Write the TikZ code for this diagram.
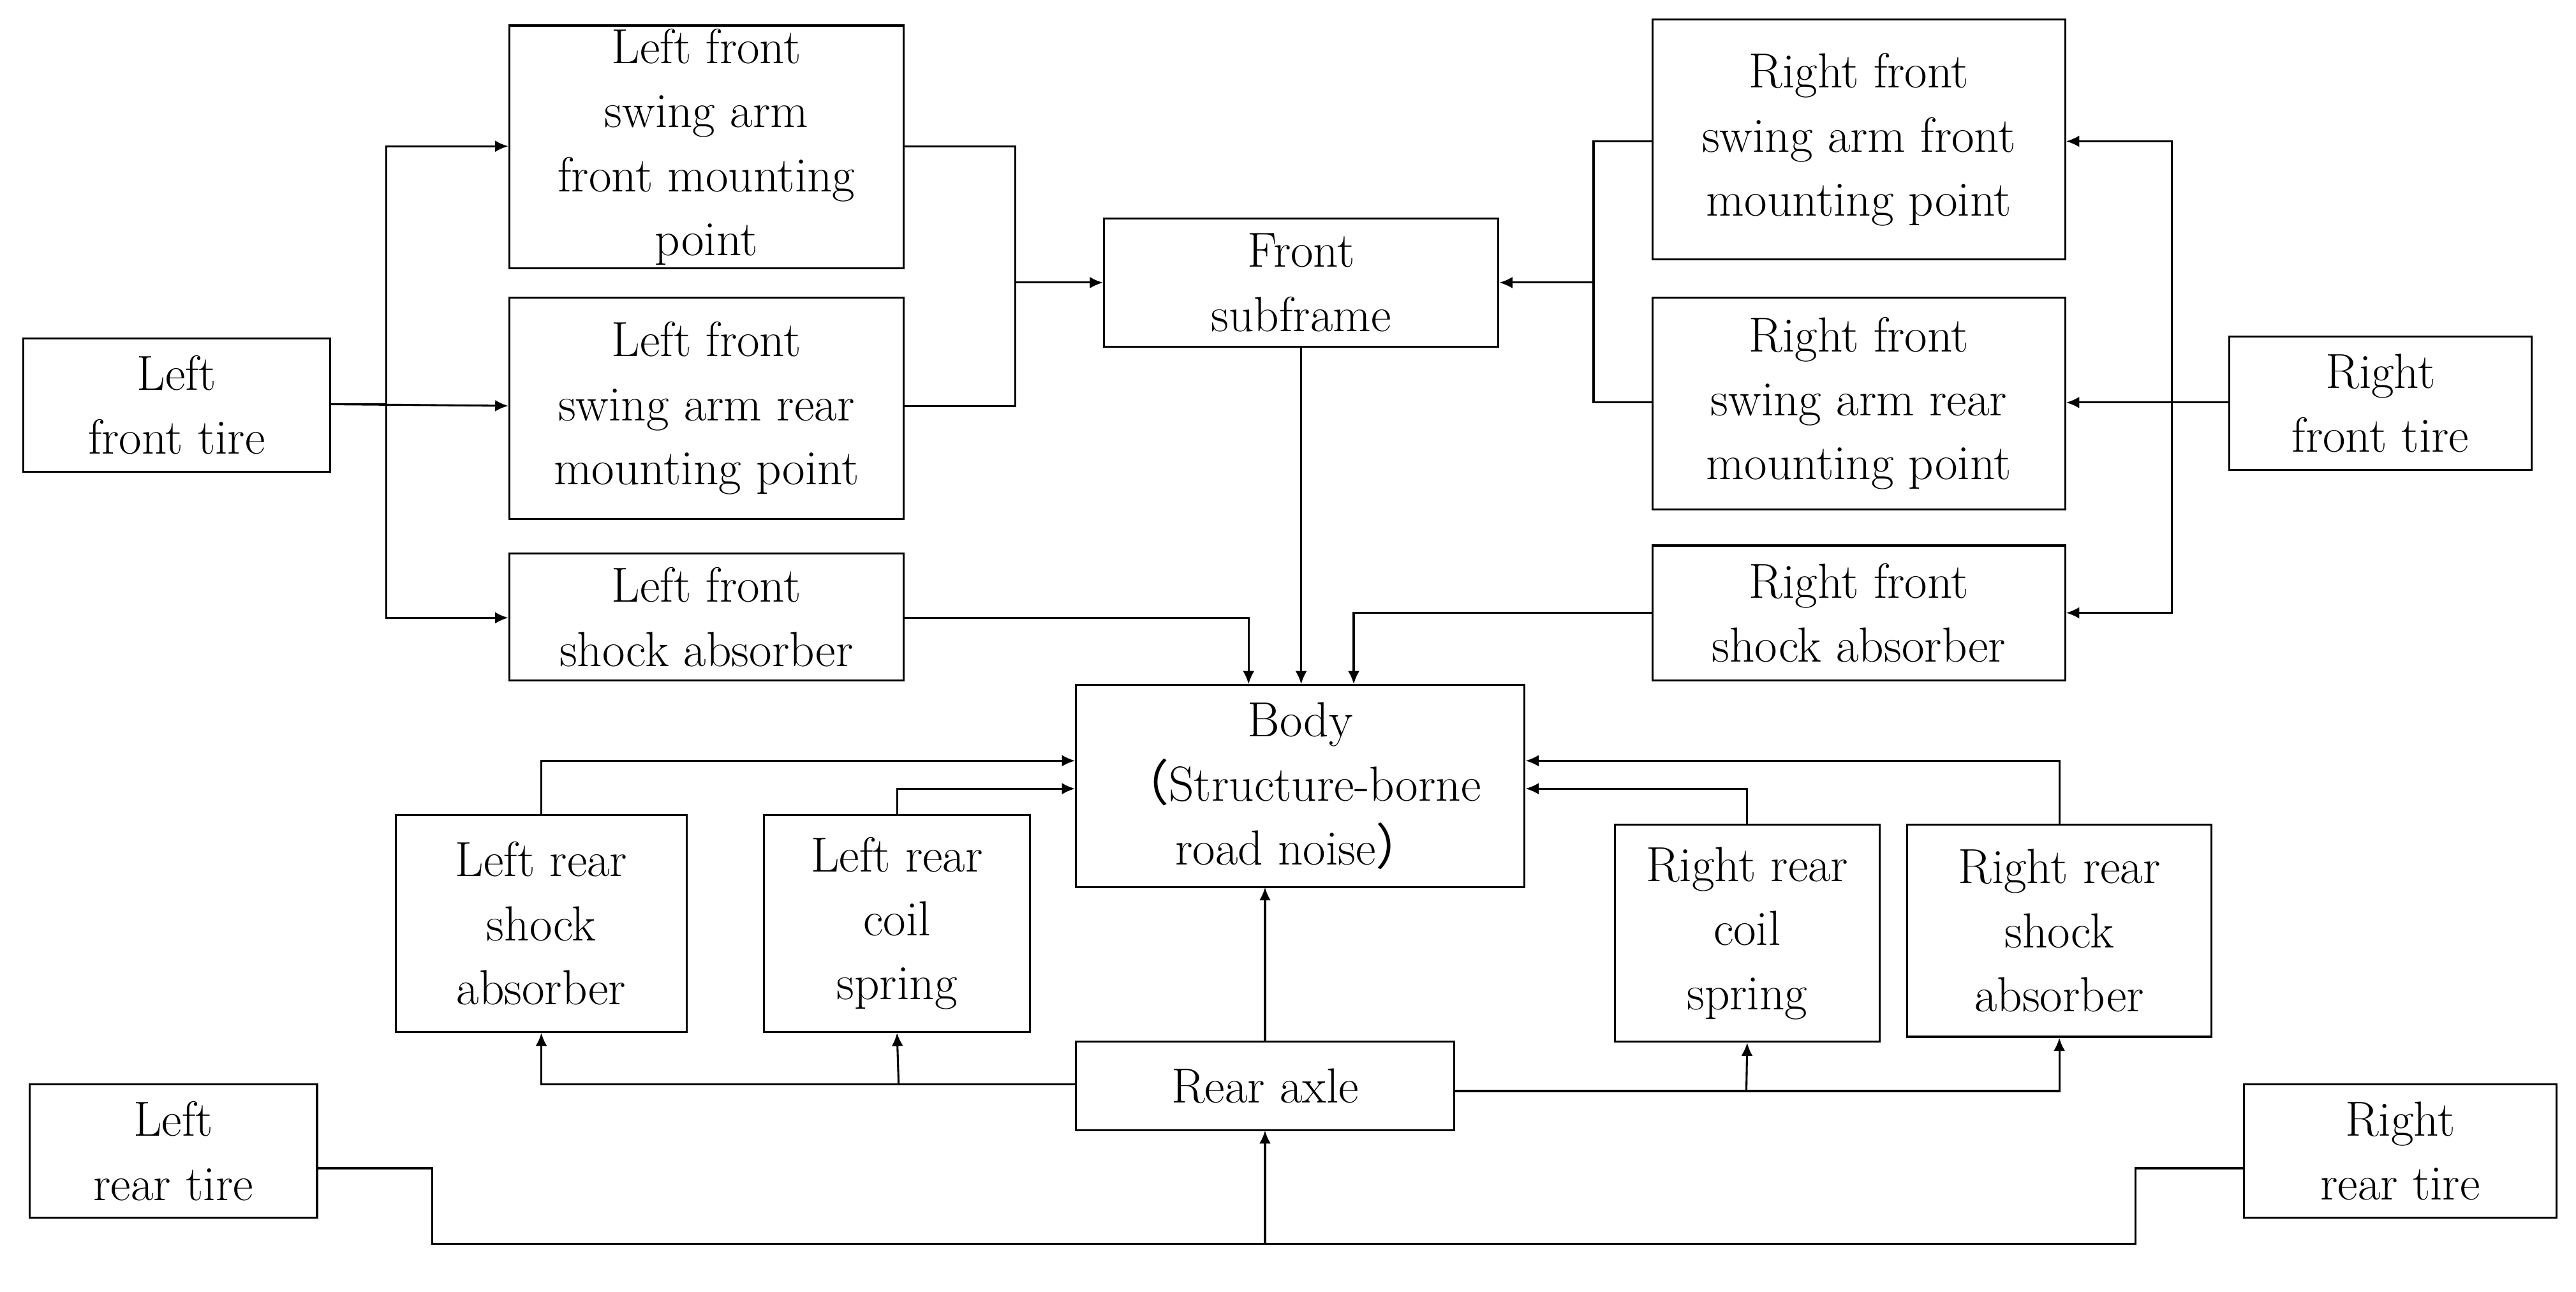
\documentclass[tikz,border=0pt]{standalone}
\usepackage{fontspec}
\newfontfamily\cjk{Noto Sans CJK SC}
\usetikzlibrary{arrows.meta}
\newcommand{\bx}[6]{\node[box,minimum width={(#4-#2)*0.5pt},minimum height={(#5-#3)*0.5pt}] (#1) at ({(#2+#4)/2},{(#3+#5)/2}) {#6};}
\begin{document}
\begin{tikzpicture}[x=0.5pt,y=-0.5pt,
  box/.style={draw,line width=0.6pt,inner sep=1pt,align=center,font=\fontsize{15}{19.5}\selectfont},
  ln/.style={line width=0.6pt},
  ar/.style={ln,-{Latex[length=4pt,width=3.5pt]}}]
\useasboundingbox (0,0) rectangle (1568,786);
\bx{lft}{14}{206}{201}{287}{Left\\front tire}
\bx{lfa}{310}{16}{550}{163}{Left front\\swing arm\\front mounting\\point}
\bx{lfr}{310}{181}{550}{316}{Left front\\swing arm rear\\mounting point}
\bx{lfs}{310}{337}{550}{414}{Left front\\shock absorber}
\bx{fsf}{672}{133}{912}{211}{Front\\subframe}
\bx{rfa}{1006}{12}{1257}{158}{Right front\\swing arm front\\mounting point}
\bx{rfr}{1006}{181}{1257}{310}{Right front\\swing arm rear\\mounting point}
\bx{rfs}{1006}{332}{1257}{414}{Right front\\shock absorber}
\bx{rft}{1357}{205}{1541}{286}{Right\\front tire}
\bx{body}{655}{417}{928}{540}{Body\\{\cjk （}Structure-borne\\road noise{\cjk ）}}
\bx{lrs}{241}{496}{418}{628}{Left rear\\shock\\absorber}
\bx{lrc}{465}{496}{627}{628}{Left rear\\coil\\spring}
\bx{rrc}{983}{502}{1144}{634}{Right rear\\coil\\spring}
\bx{rrs}{1161}{502}{1346}{631}{Right rear\\shock\\absorber}
\bx{ax}{655}{634}{885}{688}{Rear axle}
\bx{lrt}{18}{660}{193}{741}{Left\\rear tire}
\bx{rrt}{1366}{660}{1556}{741}{Right\\rear tire}
% left front
\coordinate (j1) at (235,246);
\draw[ln] (lft.east|-j1) -- (j1);
\draw[ar] (j1) |- (lfa.west|-0,89);
\draw[ar] (j1) |- (lfs.west|-0,376);
\draw[ar] (lft.east|-j1) -- (lfr.west|-0,247);
\draw[ln] (lfa.east|-0,89) -| (618,247) -- (lfr.east|-0,247);
\draw[ar] (618,172) -- (fsf.west|-0,172);
\draw[ar] (fsf.south|-0,211) -- (fsf.south|-body.north);
\draw[ar] (lfs.east|-0,376) -| (760,0|-body.north);
\draw[ar] (rfs.west|-0,373) -| (824,0|-body.north);
% right front
\draw[ln] (rfa.west|-0,86) -| (970,245) -- (rfr.west|-0,245);
\draw[ar] (970,172) -- (fsf.east|-0,172);
\draw[ar] (rft.west|-0,245) -- (rfr.east|-0,245);
\coordinate (j2) at (1322,245);
\draw[ar] (j2) |- (rfa.east|-0,86);
\draw[ar] (j2) |- (rfs.east|-0,373);
% rear to body
\draw[ar] (lrs.north) |- (body.west|-0,463);
\draw[ar] (lrc.north) |- (body.west|-0,480);
\draw[ar] (rrc.north) |- (body.east|-0,480);
\draw[ar] (rrs.north) |- (body.east|-0,463);
\draw[ar] (770,634) -- (770,540);
% axle
\draw[ar] (ax.west|-0,660) -| (lrs.south);
\draw[ar] (547,660) -- (lrc.south);
\draw[ar] (ax.east|-0,664) -| (rrs.south);
\draw[ar] (1063,664) -- (rrc.south);
\draw[ln] (lrt.east|-0,711) -| (263,757) -- (1300,757) |- (rrt.west|-0,711);
\draw[ar] (770,757) -- (ax.south|-0,688);
\end{tikzpicture}
\end{document}
